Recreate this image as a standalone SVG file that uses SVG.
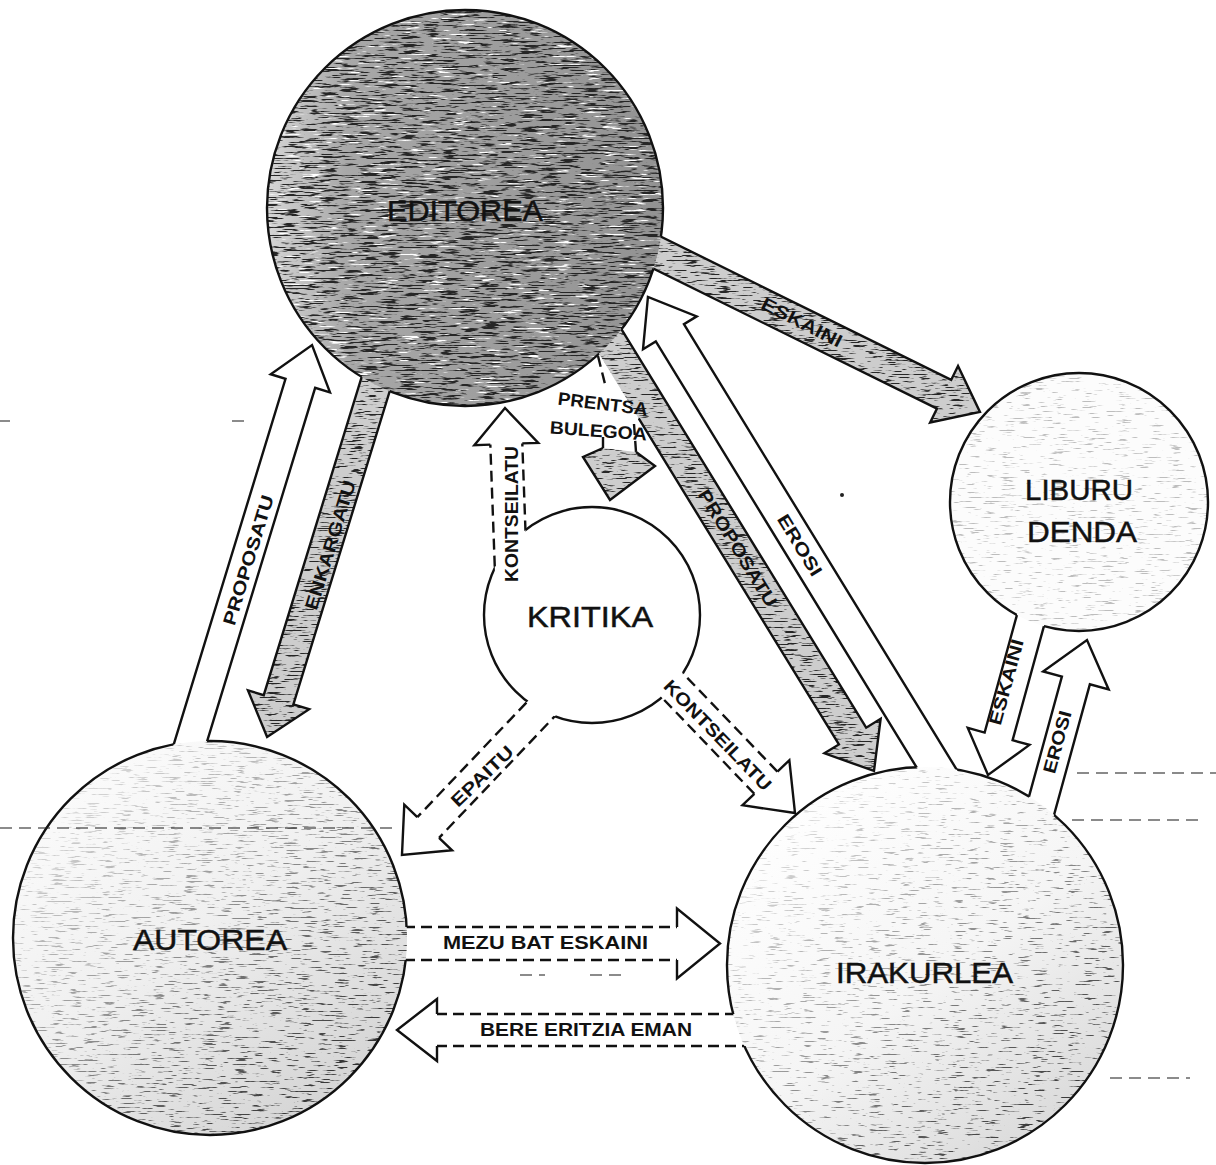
<svg xmlns="http://www.w3.org/2000/svg" xmlns:xlink="http://www.w3.org/1999/xlink" width="1216" height="1165" viewBox="0 0 1216 1165">
<style>
.edge{fill:none;stroke:#111;stroke-width:2.4}
.arW{fill:#fff;stroke:#111;stroke-width:2.4;stroke-linejoin:miter}
.fillW{fill:#fff;stroke:none}
.fillS{fill:#cdcdcd;stroke:none}
.ol{fill:none;stroke:#111;stroke-width:2.4;stroke-linejoin:miter}
.dash{fill:none;stroke:#111;stroke-width:2.4;stroke-dasharray:11 6}
.lbl{font-family:"Liberation Sans",Arial,Helvetica,sans-serif;font-weight:bold;font-size:18px;fill:#111;text-anchor:middle}
.node{font-family:"Liberation Sans",Arial,Helvetica,sans-serif;font-size:30px;fill:#111;stroke:#111;stroke-width:0.5;text-anchor:middle}
</style>
<defs>
<filter id="gDark" x="0" y="0" width="1" height="1" color-interpolation-filters="sRGB">
<feTurbulence type="fractalNoise" baseFrequency="0.05 0.6" numOctaves="3" seed="3"/>
<feColorMatrix type="matrix" values="0 0 0 0 0.15 0 0 0 0 0.15 0 0 0 0 0.15 8 0 0 0 -4.2"/>
<feComposite in2="SourceGraphic" operator="in"/>
</filter>
<filter id="gWhite" x="0" y="0" width="1" height="1" color-interpolation-filters="sRGB">
<feTurbulence type="fractalNoise" baseFrequency="0.04 0.5" numOctaves="3" seed="11"/>
<feColorMatrix type="matrix" values="0 0 0 0 1 0 0 0 0 1 0 0 0 0 1 10 0 0 0 -6.6"/>
<feComposite in2="SourceGraphic" operator="in"/>
</filter>
<filter id="gMed" x="0" y="0" width="1" height="1" color-interpolation-filters="sRGB">
<feTurbulence type="fractalNoise" baseFrequency="0.06 0.7" numOctaves="3" seed="5"/>
<feColorMatrix type="matrix" values="0 0 0 0 0.15 0 0 0 0 0.15 0 0 0 0 0.15 8 0 0 0 -4.55"/>
<feComposite in2="SourceGraphic" operator="in"/>
</filter>
<filter id="gSparse" x="0" y="0" width="1" height="1" color-interpolation-filters="sRGB">
<feTurbulence type="fractalNoise" baseFrequency="0.06 0.7" numOctaves="3" seed="8"/>
<feColorMatrix type="matrix" values="0 0 0 0 0.15 0 0 0 0 0.15 0 0 0 0 0.15 8 0 0 0 -4.8"/>
<feComposite in2="SourceGraphic" operator="in"/>
</filter>
<filter id="gFaint" x="0" y="0" width="1" height="1" color-interpolation-filters="sRGB">
<feTurbulence type="fractalNoise" baseFrequency="0.06 0.7" numOctaves="3" seed="13"/>
<feColorMatrix type="matrix" values="0 0 0 0 0.18 0 0 0 0 0.18 0 0 0 0 0.18 8 0 0 0 -5.0"/>
<feComposite in2="SourceGraphic" operator="in"/>
</filter>
<linearGradient id="gEd" x1="0" y1="0" x2="1" y2="0">
<stop offset="0" stop-color="#d6d6d6"/>
<stop offset="0.2" stop-color="#a8a8a8"/>
<stop offset="1" stop-color="#929292"/>
</linearGradient>
<linearGradient id="gAu" x1="0.2" y1="0.05" x2="0.85" y2="0.95">
<stop offset="0" stop-color="#fbfbfb"/>
<stop offset="0.45" stop-color="#f0f0f0"/>
<stop offset="1" stop-color="#d2d2d2"/>
</linearGradient>
<linearGradient id="gIr" x1="0.2" y1="0.1" x2="0.85" y2="0.95">
<stop offset="0" stop-color="#fefefe"/>
<stop offset="0.5" stop-color="#f5f5f5"/>
<stop offset="1" stop-color="#d8d8d8"/>
</linearGradient>
<linearGradient id="mG" x1="0.15" y1="0.1" x2="0.9" y2="0.9">
<stop offset="0" stop-color="#222"/>
<stop offset="0.45" stop-color="#777"/>
<stop offset="1" stop-color="#fff"/>
</linearGradient>
<mask id="fadeTL" maskContentUnits="objectBoundingBox">
<rect x="0" y="0" width="1" height="1" fill="url(#mG)"/>
</mask>
<polygon id="p1" transform="translate(179.3,779.2) rotate(-73)" points="0,-15.5 414,-15.5 414,-31 454,0 414,31 414,15.5 0,15.5"/>
<polygon id="p2" transform="translate(387.8,344.7) rotate(107.1)" points="0,-15.5 371.5,-15.5 371.5,-32 410.5,0 371.5,32 371.5,15.5 0,15.5"/>
<polygon id="p3" transform="translate(622.1,235.3) rotate(26.28)" points="0,-16 359.1,-16 359.1,-31.5 399.1,0 359.1,31.5 359.1,16 0,16"/>
<polygon id="p4" transform="translate(960.9,808.1) rotate(-121.48)" points="0,-16.5 557.3,-16.5 557.3,-31.5 599.3,0 557.3,31.5 557.3,16.5 0,16.5"/>
<polygon id="p5" transform="translate(589,307) rotate(58.44)" points="0,-16 503.5,-16 503.5,-33 544.5,0 503.5,33 503.5,16 0,16"/>
<polygon id="p6h" points="603,448 583,457 610,500 655,466 636,452"/>
<polygon id="p7" transform="translate(512,600) rotate(-92.09)" points="0,-16 156.1,-16 156.1,-32 192.1,0 156.1,32 156.1,16 0,16"/>
<polygon id="p8" transform="translate(560.7,688.3) rotate(133.59)" points="0,-15 192.2,-15 192.2,-33 230.2,0 192.2,33 192.2,15 0,15"/>
<polygon id="p9" transform="translate(652.2,664.4) rotate(46.14)" points="0,-16 164.1,-16 164.1,-32.5 206.1,0 164.1,32.5 164.1,16 0,16"/>
<polygon id="p10" transform="translate(370,943.5)" points="0,-16.5 307,-16.5 307,-35 350,0 307,35 307,16.5 0,16.5"/>
<polygon id="p11" transform="translate(770,1030) rotate(180)" points="0,-16 333,-16 333,-31 373,0 333,31 333,16 0,16"/>
<polygon id="p12" transform="translate(1038,593) rotate(105.36)" points="0,-14.5 148.7,-14.5 148.7,-32 188.7,0 148.7,32 148.7,14.5 0,14.5"/>
<polygon id="p13" transform="translate(1033.5,835) rotate(-74.66)" points="0,-14.5 160.2,-14.5 160.2,-34 202.2,0 160.2,34 160.2,14.5 0,14.5"/>
<mask id="cut" maskUnits="userSpaceOnUse" x="0" y="0" width="1216" height="1165">
<rect x="0" y="0" width="1216" height="1165" fill="#fff"/>
<use xlink:href="#p1" fill="#000"/>
<use xlink:href="#p2" fill="#000"/>
<use xlink:href="#p3" fill="#000"/>
<use xlink:href="#p4" fill="#000"/>
<use xlink:href="#p5" fill="#000"/>
<use xlink:href="#p7" fill="#000"/>
<use xlink:href="#p8" fill="#000"/>
<use xlink:href="#p9" fill="#000"/>
<use xlink:href="#p10" fill="#000"/>
<use xlink:href="#p11" fill="#000"/>
<use xlink:href="#p12" fill="#000"/>
<use xlink:href="#p13" fill="#000"/>
</mask>
</defs>
<rect x="0" y="0" width="1216" height="1165" fill="#fff"/>

<g id="connectors">
<g id="c-eskaini-editorea-liburu">
<use xlink:href="#p3" class="fillS"/>
<use xlink:href="#p3" fill="#000" filter="url(#gMed)"/>
<use xlink:href="#p3" class="ol"/>
</g>
<g id="c-erosi-irakurlea-editorea">
<use xlink:href="#p4" class="arW"/>
</g>
<g id="c-proposatu-editorea-irakurlea">
<use xlink:href="#p5" class="fillS"/>
<use xlink:href="#p5" fill="#000" filter="url(#gMed)"/>
<path class="ol" transform="translate(589,307) rotate(58.44)" d="M121,16H503.5V33L544.5,0L503.5,-33V-16H0"/>
</g>
<g id="c-prentsa-bulegoa">
<polygon class="fillW" points="598,355 603,448 636,452 638,419"/>
<use xlink:href="#p6h" class="fillS"/>
<use xlink:href="#p6h" fill="#000" filter="url(#gMed)"/>
<path class="ol" d="M603,448L583,457L610,500L655,466L636,452"/>
<path class="dash" d="M598,356L606,388M603,437L603,448M634,424L636,452"/>
</g>
<g id="c-proposatu-autorea-editorea">
<use xlink:href="#p1" class="arW"/>
</g>
<g id="c-enkargatu-editorea-autorea">
<use xlink:href="#p2" class="fillS"/>
<use xlink:href="#p2" fill="#000" filter="url(#gMed)"/>
<use xlink:href="#p2" class="ol"/>
</g>
<g id="c-kontseilatu-kritika-editorea">
<use xlink:href="#p7" class="fillW"/>
<path class="dash" transform="translate(512,600) rotate(-92.09)" d="M0,-16H156.1M0,16H156.1"/>
<path class="ol" transform="translate(512,600) rotate(-92.09)" d="M156.1,-16V-32L192.1,0L156.1,32V16"/>
</g>
<g id="c-epaitu-kritika-autorea">
<use xlink:href="#p8" class="fillW"/>
<path class="dash" transform="translate(560.7,688.3) rotate(133.59)" d="M0,-15H192.2M0,15H192.2"/>
<path class="ol" transform="translate(560.7,688.3) rotate(133.59)" d="M192.2,-15V-33L230.2,0L192.2,33V15"/>
</g>
<g id="c-kontseilatu-kritika-irakurlea">
<use xlink:href="#p9" class="fillW"/>
<path class="dash" transform="translate(652.2,664.4) rotate(46.14)" d="M0,-16H164.1M0,16H164.1"/>
<path class="ol" transform="translate(652.2,664.4) rotate(46.14)" d="M164.1,-16V-32.5L206.1,0L164.1,32.5V16"/>
</g>
<g id="c-mezu-autorea-irakurlea">
<use xlink:href="#p10" class="fillW"/>
<path class="dash" transform="translate(370,943.5)" d="M0,-16.5H307M0,16.5H307"/>
<path class="ol" transform="translate(370,943.5)" d="M307,-16.5V-35L350,0L307,35V16.5"/>
</g>
<g id="c-bere-irakurlea-autorea">
<use xlink:href="#p11" class="fillW"/>
<path class="dash" transform="translate(770,1030) rotate(180)" d="M0,-16H333M0,16H333"/>
<path class="ol" transform="translate(770,1030) rotate(180)" d="M333,-16V-31L373,0L333,31V16"/>
</g>
<g id="c-eskaini-liburu-irakurlea">
<use xlink:href="#p12" class="arW"/>
</g>
<g id="c-erosi-irakurlea-liburu">
<use xlink:href="#p13" class="arW"/>
</g>
</g>

<g id="node-editorea">
<circle cx="465" cy="208" r="198" fill="url(#gEd)"/>
<circle cx="465" cy="208" r="198" fill="#000" filter="url(#gDark)"/>
<circle cx="465" cy="208" r="198" fill="#000" filter="url(#gWhite)"/>
<circle class="edge" cx="465" cy="208" r="198" mask="url(#cut)"/>
<text class="node" x="465" y="221" font-size="29" textLength="156" lengthAdjust="spacingAndGlyphs">EDITOREA</text>
</g>
<g id="node-autorea">
<circle cx="210" cy="938" r="197" fill="url(#gAu)"/>
<g mask="url(#fadeTL)"><circle cx="210" cy="938" r="197" fill="#000" filter="url(#gSparse)"/></g>
<circle class="edge" cx="210" cy="938" r="197" mask="url(#cut)"/>
<text class="node" x="210" y="950" textLength="154" lengthAdjust="spacingAndGlyphs">AUTOREA</text>
</g>
<g id="node-irakurlea">
<circle cx="925" cy="965" r="198" fill="url(#gIr)"/>
<g mask="url(#fadeTL)"><circle cx="925" cy="965" r="198" fill="#000" filter="url(#gFaint)"/></g>
<circle class="edge" cx="925" cy="965" r="198" mask="url(#cut)"/>
<text class="node" x="924.5" y="983" textLength="177" lengthAdjust="spacingAndGlyphs">IRAKURLEA</text>
</g>
<g id="node-liburu-denda">
<circle cx="1079" cy="502" r="129" fill="#fcfcfc"/>
<circle cx="1079" cy="502" r="129" fill="#000" filter="url(#gFaint)" opacity="0.3"/>
<circle class="edge" cx="1079" cy="502" r="129" mask="url(#cut)"/>
<text class="node" x="1079" y="500" textLength="108" lengthAdjust="spacingAndGlyphs">LIBURU</text>
<text class="node" x="1082" y="542" textLength="110" lengthAdjust="spacingAndGlyphs">DENDA</text>
</g>
<g id="node-kritika">
<circle cx="592" cy="615" r="108" fill="#fff"/>
<circle class="edge" cx="592" cy="615" r="108" mask="url(#cut)"/>
<text class="node" x="590" y="627" font-size="32" textLength="126" lengthAdjust="spacingAndGlyphs">KRITIKA</text>
</g>

<g id="connector-labels">
<text class="lbl" transform="translate(248,560) rotate(-73)" y="6.5" textLength="135" lengthAdjust="spacingAndGlyphs">PROPOSATU</text>
<text class="lbl" transform="translate(330,545) rotate(-72.9)" y="6.5" textLength="134" lengthAdjust="spacingAndGlyphs">ENKARGATU</text>
<text class="lbl" transform="translate(802,322) rotate(27)" y="6.5" textLength="88" lengthAdjust="spacingAndGlyphs">ESKAINI</text>
<text class="lbl" transform="translate(800,545) rotate(58.5)" y="6.5" textLength="69" lengthAdjust="spacingAndGlyphs">EROSI</text>
<text class="lbl" transform="translate(738,548) rotate(58.4)" y="6.5" textLength="134" lengthAdjust="spacingAndGlyphs">PROPOSATU</text>
<text class="lbl" transform="translate(602,410) rotate(7)" font-size="16" textLength="90" lengthAdjust="spacingAndGlyphs">PRENTSA</text>
<text class="lbl" transform="translate(598,437) rotate(4)" font-size="16" textLength="97" lengthAdjust="spacingAndGlyphs">BULEGOA</text>
<text class="lbl" transform="translate(511,514) rotate(-90)" y="6.5" textLength="136" lengthAdjust="spacingAndGlyphs">KONTSEILATU</text>
<text class="lbl" transform="translate(482,776) rotate(-44)" y="6.5" textLength="79" lengthAdjust="spacingAndGlyphs">EPAITU</text>
<text class="lbl" transform="translate(718,735) rotate(46)" y="6.5" textLength="146" lengthAdjust="spacingAndGlyphs">KONTSEILATU</text>
<text class="lbl" x="545.5" y="949" textLength="205" lengthAdjust="spacingAndGlyphs">MEZU BAT ESKAINI</text>
<text class="lbl" x="586" y="1036" textLength="212" lengthAdjust="spacingAndGlyphs">BERE ERITZIA EMAN</text>
<text class="lbl" transform="translate(1006,682) rotate(-74.6)" y="6.5" textLength="88" lengthAdjust="spacingAndGlyphs">ESKAINI</text>
<text class="lbl" transform="translate(1057,742) rotate(-74.7)" y="6.5" textLength="64" lengthAdjust="spacingAndGlyphs">EROSI</text>
</g>

<g id="scan-marks" fill="none" stroke="#222" stroke-width="1.6" stroke-dasharray="12 7" opacity="0.7">
<path d="M0,828H398"/>
<path d="M1077,773H1216"/>
<path d="M1072,820H1200"/>
<path d="M1110,1078H1190"/>
<path d="M0,421H10M232,421H246"/>
<path d="M520,975H545M590,975H625"/>
</g>
<circle cx="842" cy="495" r="2" fill="#222"/>
</svg>
